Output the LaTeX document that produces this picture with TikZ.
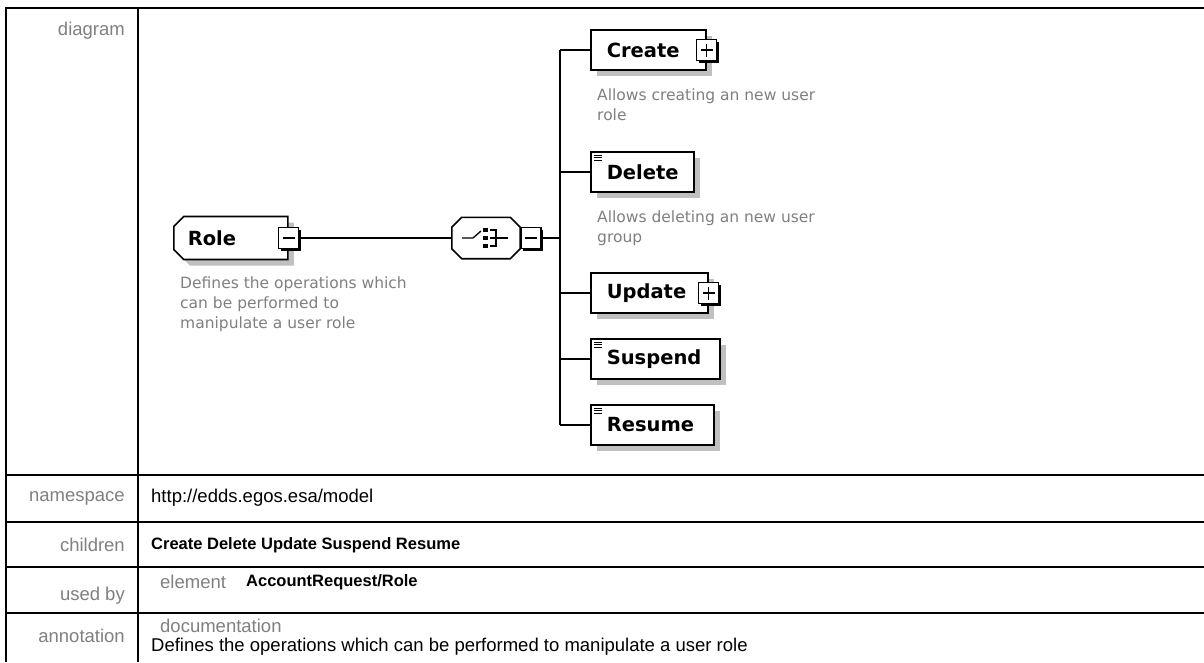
\documentclass[tikz,border=0pt]{standalone}
\usepackage{fontspec}
\setmainfont{Liberation Sans}
\newfontfamily\diafont{DejaVu Sans}
\usepackage{xcolor}
\usepackage{tikz}
\usetikzlibrary{shapes.misc, shadows, positioning, calc}
\definecolor{xsgray}{RGB}{128,128,128}
\definecolor{xsshade}{RGB}{192,192,192}
\newcommand{\tabfont}{\fontsize{18.5}{21}\selectfont}
\newcommand{\tabbold}{\bfseries\fontsize{16.5}{20}\selectfont}
\newcommand{\boxfont}{\diafont\bfseries\fontsize{19.5}{22}\selectfont}
\newcommand{\notefont}{\diafont\fontsize{15.5}{20}\selectfont}
% octagon outline round a node: #1 node, #2 chamfer
\newcommand{\octagon}[2]{($(#1.north west)+(#2,0)$) -- ($(#1.north east)+(-#2,0)$)
  -- ($(#1.north east)+(0,#2)$) -- ($(#1.south east)+(0,-#2)$)
  -- ($(#1.south east)+(-#2,0)$) -- ($(#1.south west)+(#2,0)$)
  -- ($(#1.south west)+(0,-#2)$) -- ($(#1.north west)+(0,#2)$) -- cycle}

\begin{document}
\begin{tikzpicture}[x=1pt, y=-1pt,
  every node/.style={font=\tabfont, inner sep=0pt},
  rowlbl/.style={anchor=east, text=xsgray},
  rowval/.style={anchor=west},
  tabline/.style={line width=2.2pt},
  wire/.style={line width=1.6pt},
  xsshadow/.style={drop shadow={shadow xshift=6pt, shadow yshift=-6pt,
                   fill=xsshade, opacity=1}},
  kid/.style={rectangle, draw, line width=1.6pt, fill=white, xsshadow,
              font=\boxfont, minimum height=40pt, inner xsep=16pt,
              align=left, anchor=west},
  simple/.style={kid, path picture={
      \foreach \dy in {3pt,5.5pt,8pt}
        \draw[line width=0.8pt] ([xshift=3pt,yshift=-\dy]path picture bounding box.north west) -- +(8pt,0pt);}},
  note/.style={anchor=north west, font=\notefont, text=xsgray, align=left},
  rolebox/.style={chamfered rectangle, chamfered rectangle corners={north west,south west},
                  chamfered rectangle xsep=5pt, chamfered rectangle ysep=5pt,
                  draw, line width=1.6pt, fill=white, xsshadow, font=\boxfont,
                  minimum width=105pt, minimum height=43pt, inner xsep=9pt,
                  text width=86pt, align=left, anchor=west},
  seqbox/.style={rectangle, minimum width=68pt, minimum height=41pt},
  expander/.style={rectangle, draw, line width=1.4pt, fill=white,
                   minimum width=20pt, minimum height=21pt,
                   drop shadow={shadow xshift=2pt, shadow yshift=-2pt, fill=black, opacity=1}},
  minusx/.style={expander, path picture={
      \draw[line width=1.2pt] ([xshift=4pt]path picture bounding box.west) -- ([xshift=-4pt]path picture bounding box.east);}},
  plusx/.style={expander, path picture={
      \draw[line width=1.2pt] ([xshift=4pt]path picture bounding box.west) -- ([xshift=-4pt]path picture bounding box.east);
      \draw[line width=1.2pt] ([yshift=-4pt]path picture bounding box.north) -- ([yshift=4pt]path picture bounding box.south);}},
]
\fill[white] (0,0) rectangle (1204,662);
\useasboundingbox (0,0) rectangle (1204,662);

% table
\draw[tabline] (6,662) -- (6,8) -- (1204,8);
\draw[tabline] (138,8) -- (138,662);
\draw[tabline] (6,475) -- (1204,475);
\draw[tabline] (6,522) -- (1204,522);
\draw[tabline] (6,567) -- (1204,567);
\draw[tabline] (6,613) -- (1204,613);

\node[rowlbl] (l-diag) at (125,31)  {diagram};
\node[rowlbl] (l-ns)   at (125,498) {namespace};
\node[rowlbl] (l-ch)   at (125,545) {children};
\node[rowlbl] (l-used) at (125,596) {used by};
\node[rowlbl] (l-ann)  at (125,636) {annotation};

\node[rowval] (v-ns)   at (151,498) {http://edds.egos.esa/model};
\node[rowval] (v-ch)   at (151,545) {\tabbold Create Delete Update Suspend Resume};
\node[rowval, text=xsgray] (v-elem) at (160,582) {element};
\node[rowval] (v-used) at (246,582) {\tabbold AccountRequest/Role};
\node[rowval, text=xsgray] (v-doc) at (160,626) {documentation};
\node[rowval] (v-ann)  at (151,647) {Defines the operations which can be performed to manipulate a user role};

% diagram
\node[rolebox] (role) at (173,238) {Role};
\node[minusx] (rolex) at (role.east) {};
\node[note] (role-note) at (180,277) {Defines the operations which\\can be performed to\\manipulate a user role};

\node[seqbox] (seq) at (486,238) {};
\fill[xsshade, shift={(6,6)}] \octagon{seq}{10};
\draw[line width=1.6pt, fill=white] \octagon{seq}{10};
\node[minusx, anchor=west] (seqx) at (seq.east) {};
\draw[line width=1.3pt] ($(seq.center)+(-24,0)$) -- ++(11,0) -- ++(8,-7);
\fill ($(seq.center)+(-3,-10)$) rectangle ++(5,4);
\fill ($(seq.center)+(-3,-2)$) rectangle ++(5,4);
\fill ($(seq.center)+(-3,6)$) rectangle ++(5,4);
\draw[line width=1.3pt] ($(seq.center)+(4,-8)$) -- ++(6,0) -- ++(0,16) -- ++(-6,0);
\draw[line width=1.3pt] ($(seq.center)+(4,0)$) -- ++(18,0);

\coordinate (bus) at (560,238);

\node[kid, text width=83pt]    (create)  at (590,50)  {Create};
\node[plusx] (createx) at (create.east) {};
\node[note] (create-note) at (597,89) {Allows creating an new user\\role};
\node[simple, text width=71pt] (delete)  at (590,172) {Delete};
\node[note] (delete-note) at (597,211) {Allows deleting an new user\\group};
\node[kid, text width=85pt]    (update)  at (590,293) {Update};
\node[plusx] (updatex) at (update.east) {};
\node[simple, text width=97pt] (suspend) at (590,359) {Suspend};
\node[simple, text width=91pt] (resume)  at (590,425) {Resume};

\draw[wire] (rolex.east) -- (seq.west);
\draw[wire] (seqx.east) -- (bus);
\draw[wire] (create.west -| bus) -- (resume.west -| bus);
\draw[wire] (create.west -| bus)  -- (create.west);
\draw[wire] (delete.west -| bus)  -- (delete.west);
\draw[wire] (update.west -| bus)  -- (update.west);
\draw[wire] (suspend.west -| bus) -- (suspend.west);
\draw[wire] (resume.west -| bus)  -- (resume.west);

\end{tikzpicture}
\end{document}
